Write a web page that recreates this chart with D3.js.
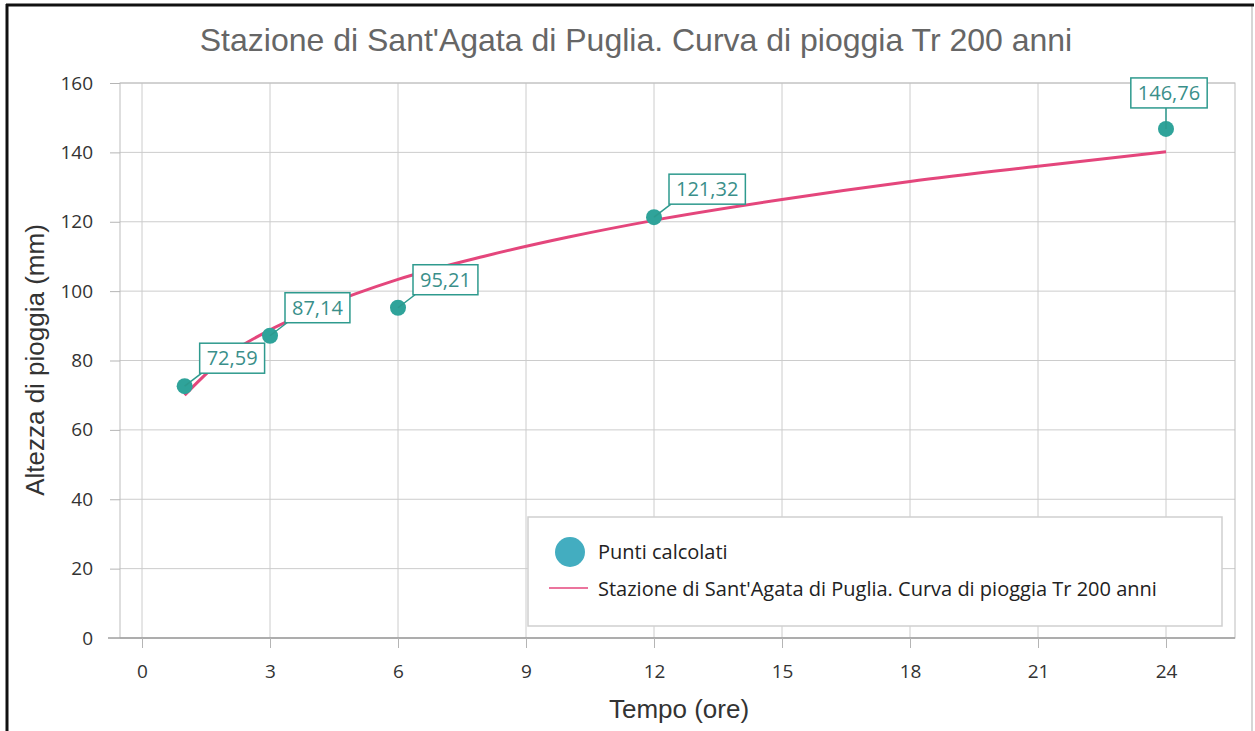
<!DOCTYPE html>
<html>
<head>
<meta charset="utf-8">
<script src="https://cdn.jsdelivr.net/npm/d3@7"></script>
<style>
  body { margin: 0; background: #fff; }
  svg text { font-family: "Open Sans", "Noto Sans", sans-serif; }
</style>
</head>
<body>
<svg id="chart" width="1255" height="731"></svg>
<script>
// Punti calcolati (ore, mm)
const pointHours = [1, 3, 6, 12, 24];
const pointValues = [72.59, 87.14, 95.21, 121.32, 146.76];
const pointLabels = ["72,59", "87,14", "95,21", "121,32", "146,76"];

// Curva di pioggia
const curveHours = [1, 2, 3, 4, 5, 6, 8, 10, 12, 15, 18, 21, 24];
const curveValues = [70, 81.5, 88.8, 94.4, 99.2, 103.4, 110, 115.6, 120.4, 126.4, 131.6, 136, 140.2];

const xTicks = [0, 3, 6, 9, 12, 15, 18, 21, 24];
const yTicks = [0, 20, 40, 60, 80, 100, 120, 140, 160];

const titleText = "Stazione di Sant'Agata di Puglia. Curva di pioggia Tr 200 anni";
const legendNames = ["Punti calcolati", "Stazione di Sant'Agata di Puglia. Curva di pioggia Tr 200 anni"];

const svg = d3.select("#chart");

// plot box
const box = {left: 120, right: 1235, top: 83, bottom: 638};

const x = d3.scaleLinear().domain([0, 24]).range([142, 1166]);
const y = d3.scaleLinear().domain([0, 160]).range([638, 83]);

// outer frame like the screenshot
svg.append("rect").attr("x", 0).attr("y", 0).attr("width", 1255).attr("height", 731).attr("fill", "#fff");
svg.append("line").attr("x1", 1252).attr("x2", 1252).attr("y1", 5).attr("y2", 731)
  .attr("stroke", "#c8c8c8").attr("stroke-width", 1.5);
svg.append("line").attr("x1", 7).attr("x2", 7).attr("y1", 4).attr("y2", 731)
  .attr("stroke", "#111").attr("stroke-width", 3);
svg.append("line").attr("x1", 6).attr("x2", 1254).attr("y1", 5).attr("y2", 5)
  .attr("stroke", "#111").attr("stroke-width", 3);

// title
svg.append("text")
  .attr("x", 636).attr("y", 51)
  .attr("text-anchor", "middle")
  .style("font-family", "'Liberation Sans', Arial, sans-serif")
  .style("font-size", "32px")
  .attr("fill", "#666")
  .text(titleText);

// grid
svg.append("g").selectAll("line").data(xTicks).join("line")
  .attr("x1", d => x(d)).attr("x2", d => x(d))
  .attr("y1", box.top).attr("y2", box.bottom)
  .attr("stroke", "#cccccc");
svg.append("g").selectAll("line").data(yTicks).join("line")
  .attr("x1", box.left).attr("x2", box.right)
  .attr("y1", d => y(d)).attr("y2", d => y(d))
  .attr("stroke", "#cccccc");

// plot box border
svg.append("rect")
  .attr("x", box.left).attr("y", box.top)
  .attr("width", box.right - box.left).attr("height", box.bottom - box.top)
  .attr("fill", "none").attr("stroke", "#bdbdbd");

// axes
const xAxis = d3.axisBottom(x).tickValues(xTicks).tickSize(10).tickPadding(17);
const gx = svg.append("g").attr("transform", `translate(0,${box.bottom})`).call(xAxis);
gx.select(".domain").attr("d", `M${box.left - 12},0H${box.right}`).attr("stroke", "#a0a0a0").attr("stroke-width", 1.5);
gx.selectAll(".tick line").attr("stroke", "#b5b5b5");
gx.selectAll(".tick text").style("font-size", "19px").attr("fill", "#333");

const yAxis = d3.axisLeft(y).tickValues(yTicks).tickSize(10).tickPadding(17);
const gy = svg.append("g").attr("transform", `translate(${box.left},0)`).call(yAxis);
gy.select(".domain").remove();
gy.selectAll(".tick line").attr("stroke", "#b5b5b5");
gy.selectAll(".tick text").style("font-size", "19px").attr("fill", "#333");

// axis titles
svg.append("text")
  .attr("transform", "translate(44,360) rotate(-90)")
  .attr("text-anchor", "middle")
  .style("font-family", "'Liberation Sans', Arial, sans-serif")
  .style("font-size", "26px")
  .attr("fill", "#333")
  .text("Altezza di pioggia (mm)");
svg.append("text")
  .attr("x", 679).attr("y", 718)
  .attr("text-anchor", "middle")
  .style("font-family", "'Liberation Sans', Arial, sans-serif")
  .style("font-size", "26px")
  .attr("fill", "#333")
  .text("Tempo (ore)");

// curve
const curve = curveHours.map((h, i) => [h, curveValues[i]]);
svg.append("path")
  .datum(curve)
  .attr("d", d3.line().x(d => x(d[0])).y(d => y(d[1])).curve(d3.curveMonotoneX))
  .attr("fill", "none")
  .attr("stroke", "#e4467c")
  .attr("stroke-width", 3);

// points
const pts = pointHours.map((h, i) => ({h: h, v: pointValues[i], label: pointLabels[i]}));
svg.append("g").selectAll("circle").data(pts).join("circle")
  .attr("cx", d => x(d.h)).attr("cy", d => y(d.v))
  .attr("r", 8)
  .attr("fill", "#2fa39a");

// data labels
const lab = svg.append("g").selectAll("g").data(pts).join("g");
lab.each(function(d) {
  const g = d3.select(this);
  const px = x(d.h), py = y(d.v);
  const t = g.append("text")
    .style("font-size", "20px")
    .attr("fill", "#3a8f8a")
    .attr("text-anchor", "middle")
    .text(d.label);
  const w = t.node().getComputedTextLength() + 14;
  const hgt = 30;
  let bx, by, lx, ly;
  if (px + 15 + w > box.right) {
    // no room on the right: put it above the point
    bx = px - w / 2 + 3; by = py - 21 - hgt;
    lx = px; ly = by + hgt;
  } else {
    bx = px + 15; by = py - 13 - hgt;
    lx = bx + 2; ly = by + hgt;
  }
  g.insert("line", "text")
    .attr("x1", px).attr("y1", py).attr("x2", lx).attr("y2", ly)
    .attr("stroke", "#2e9a8e").attr("stroke-width", 1.5);
  g.insert("rect", "text")
    .attr("x", bx).attr("y", by).attr("width", w).attr("height", hgt)
    .attr("fill", "#fff").attr("stroke", "#2e9a8e").attr("stroke-width", 1.5);
  t.attr("x", bx + w / 2).attr("y", by + 22);
});

// legend
const lg = svg.append("g");
lg.append("rect")
  .attr("x", 528).attr("y", 517).attr("width", 694).attr("height", 109)
  .attr("fill", "#fff").attr("stroke", "#cfcfcf").attr("stroke-width", 1.5);
lg.append("circle").attr("cx", 570).attr("cy", 552).attr("r", 15).attr("fill", "#43adc0");
lg.append("line").attr("x1", 549).attr("x2", 588).attr("y1", 588).attr("y2", 588)
  .attr("stroke", "#e4467c").attr("stroke-width", 1.5);
lg.selectAll("text").data(legendNames).join("text")
  .attr("x", 598).attr("y", (d, i) => 559 + i * 37)
  .style("font-size", "20px")
  .attr("fill", "#222")
  .text(d => d);
</script>
</body>
</html>
